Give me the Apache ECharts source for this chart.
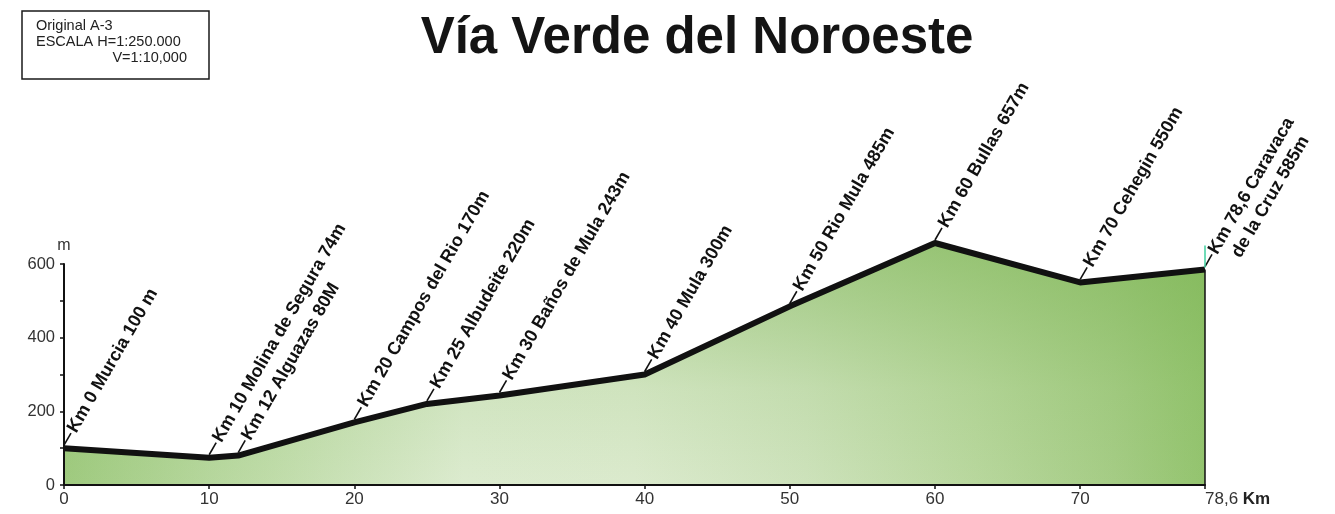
<!DOCTYPE html>
<html>
<head>
<meta charset="utf-8">
<title>Vía Verde del Noroeste</title>
<script src="https://cdn.jsdelivr.net/npm/echarts@6/dist/echarts.min.js"></script>
<style>
  html, body { margin: 0; padding: 0; background: #ffffff; }
  #chart { width: 1335px; height: 514px; }
</style>
</head>
<body>
<div id="chart"></div>
<script>
// Route stops: kilometre point, altitude (m) and the label written beside each one
const stopKm = [0, 10, 12, 20, 25, 30, 40, 50, 60, 70, 78.6];
const stopElev = [100, 74, 80, 170, 220, 243, 300, 485, 657, 550, 585];
const stopNames = [
  'Km 0 Murcia 100 m',
  'Km 10 Molina de Segura 74m',
  'Km 12 Alguazas 80M',
  'Km 20 Campos del Rio 170m',
  'Km 25 Albudeite 220m',
  'Km 30 Baños de Mula 243m',
  'Km 40 Mula 300m',
  'Km 50 Rio Mula 485m',
  'Km 60 Bullas 657m',
  'Km 70 Cehegin 550m',
  'Km 78,6 Caravaca\nde la Cruz 585m'
];

// Axis ticks
const kmTicks = [0, 10, 20, 30, 40, 50, 60, 70, 78.6];
const elevTicks = [0, 200, 400, 600];

// Scale box text
const scaleNotes = ['Original A-3', 'ESCALA H=1:250.000', 'V=1:10,000'];

const FONT = '"Liberation Sans", Arial, Helvetica, sans-serif';
const LABEL_SIZE = 18;
const LABEL_ANGLE = 60;     // degrees, text runs up and to the right
const LEADER = 14;          // length of the short leader stroke
const GAP = 2;
const LINE_H = 22;

const profile = stopKm.map((k, i) => [k, stopElev[i]]);

const measureCtx = document.createElement('canvas').getContext('2d');
function textWidth(t) {
  measureCtx.font = 'bold ' + LABEL_SIZE + 'px ' + FONT;
  return measureCtx.measureText(t).width;
}

function renderStop(params, api) {
  const i = params.dataIndex;
  const p = api.coord([api.value(0), api.value(1)]);
  const ang = LABEL_ANGLE * Math.PI / 180;
  const dx = Math.cos(ang), dy = -Math.sin(ang);
  const px = Math.sin(ang), py = Math.cos(ang);
  const x0 = p[0], y0 = p[1] - 3;
  const x1 = x0 + dx * LEADER, y1 = y0 + dy * LEADER;
  const children = [{
    type: 'line',
    shape: { x1: x0, y1: y0, x2: x1, y2: y1 },
    style: { stroke: '#111', lineWidth: 1.6 }
  }];
  const lines = stopNames[i].split('\n');
  const w0 = textWidth(lines[0]);
  lines.forEach((t, k) => {
    const shift = k === 0 ? 0 : (w0 - textWidth(t)) / 2;
    const along = GAP + shift;
    const off = k * LINE_H;
    children.push({
      type: 'text',
      x: x1 + dx * along + px * off,
      y: y1 + dy * along + py * off,
      rotation: ang,
      style: {
        text: t,
        fontSize: LABEL_SIZE,
        fontWeight: 'bold',
        fontFamily: FONT,
        fill: '#111',
        align: 'left',
        verticalAlign: 'middle'
      }
    });
  });
  if (i === stopKm.length - 1) {
    // closing edge of the profile down to the baseline, and the end marker
    const base = api.coord([api.value(0), 0]);
    children.push({
      type: 'line',
      shape: { x1: p[0], y1: p[1], x2: base[0], y2: base[1] },
      style: { stroke: '#111', lineWidth: 1.5 }
    });
    children.push({
      type: 'line',
      shape: { x1: p[0], y1: p[1] - 2, x2: p[0], y2: p[1] - 24 },
      style: { stroke: '#3fcf9f', lineWidth: 1.5 }
    });
  }
  return { type: 'group', children: children };
}

const chart = echarts.init(document.getElementById('chart'), null, { renderer: 'canvas' });

chart.setOption({
  backgroundColor: '#ffffff',
  animation: false,
  title: {
    text: 'Vía Verde del Noroeste',
    left: 692,
    top: 8,
    textAlign: 'center',
    textStyle: { fontSize: 51, fontWeight: 'bold', color: '#141414', fontFamily: FONT }
  },
  graphic: [
    {
      type: 'rect',
      shape: { x: 22, y: 11, width: 187, height: 68 },
      style: { fill: '#fff', stroke: '#1a1a1a', lineWidth: 1.5 }
    },
    {
      type: 'text', x: 36, y: 26,
      style: { text: scaleNotes[0], fontSize: 14.5, fontFamily: FONT, fill: '#222', verticalAlign: 'middle', align: 'left' }
    },
    {
      type: 'text', x: 36, y: 42,
      style: { text: scaleNotes[1], fontSize: 14.5, fontFamily: FONT, fill: '#222', verticalAlign: 'middle', align: 'left' }
    },
    {
      type: 'text', x: 187, y: 58,
      style: { text: scaleNotes[2], fontSize: 14.5, fontFamily: FONT, fill: '#222', verticalAlign: 'middle', align: 'right' }
    }
  ],
  grid: { left: 64, right: 130, top: 264, bottom: 29, containLabel: false },
  xAxis: {
    type: 'value',
    min: 0,
    max: 78.6,
    interval: 10,
    z: 5,
    splitLine: { show: false },
    axisLine: { show: true, lineStyle: { color: '#111', width: 2 } },
    axisTick: { show: true, length: 4, customValues: kmTicks, lineStyle: { color: '#111', width: 1.5 } },
    axisLabel: {
      customValues: kmTicks,
      fontSize: 17,
      fontFamily: FONT,
      color: '#333',
      margin: 6,
      alignMaxLabel: 'left',
      padding: [0, 0, 0, 0],
      formatter: v => v === 78.6 ? '78,6 {k|Km}' : String(v),
      rich: { k: { fontSize: 17, fontWeight: 'bold', fontFamily: FONT, color: '#222' } }
    }
  },
  yAxis: {
    type: 'value',
    min: 0,
    max: 600,
    interval: 100,
    z: 5,
    name: 'm',
    nameLocation: 'end',
    nameGap: 10,
    nameTextStyle: { fontSize: 16, fontFamily: FONT, color: '#333' },
    splitLine: { show: false },
    axisLine: { show: true, lineStyle: { color: '#111', width: 2 } },
    axisTick: { show: true, length: 4, lineStyle: { color: '#111', width: 1.5 } },
    axisLabel: {
      fontSize: 16.5,
      fontFamily: FONT,
      color: '#333',
      margin: 9,
      formatter: v => elevTicks.indexOf(v) >= 0 ? String(v) : ''
    }
  },
  series: [
    {
      // base fill of the terrain, lighter towards the lower middle
      type: 'line',
      data: profile,
      symbol: 'none',
      clip: false,
      silent: true,
      z: 1,
      lineStyle: { width: 0, opacity: 0 },
      areaStyle: {
        opacity: 1,
        color: {
          type: 'linear', x: 0, y: 0, x2: 1, y2: 0,
          colorStops: [
            { offset: 0, color: '#9fca7f' },
            { offset: 0.15, color: '#bad9a2' },
            { offset: 0.35, color: '#dcebcf' },
            { offset: 0.5, color: '#dbeacd' },
            { offset: 0.65, color: '#cde2bb' },
            { offset: 0.8, color: '#b8d79d' },
            { offset: 0.92, color: '#a5cc85' },
            { offset: 1, color: '#94c46f' }
          ]
        }
      }
    },
    {
      // darker tint near the top of the terrain and the black profile line
      type: 'line',
      data: profile,
      symbol: 'none',
      clip: false,
      silent: true,
      z: 2,
      lineStyle: { color: '#111', width: 6, join: 'round', cap: 'butt' },
      areaStyle: {
        opacity: 1,
        color: {
          type: 'linear', x: 0, y: 0, x2: 0, y2: 1,
          colorStops: [
            { offset: 0, color: 'rgba(120,178,78,0.55)' },
            { offset: 0.6, color: 'rgba(120,178,78,0.12)' },
            { offset: 1, color: 'rgba(120,178,78,0)' }
          ]
        }
      }
    },
    {
      type: 'custom',
      data: profile,
      clip: false,
      silent: true,
      z: 3,
      renderItem: renderStop
    }
  ]
});
</script>
</body>
</html>
